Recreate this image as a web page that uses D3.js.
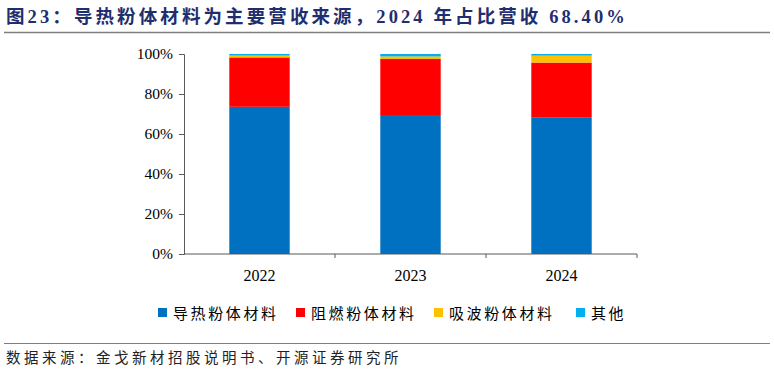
<!DOCTYPE html>
<html>
<head>
<meta charset="utf-8">
<script src="https://cdn.jsdelivr.net/npm/d3@7"></script>
<style>
  body { margin: 0; background: #fff; }
  svg { display: block; }
</style>
</head>
<body>
<div id="chart"></div>
<script>
// data (percent of revenue)
const years = ['2022', '2023', '2024'];
const seriesNames = ['导热粉体材料', '阻燃粉体材料', '吸波粉体材料', '其他'];
const thermal = [73.6, 69.5, 68.4];
const flame = [24.7, 28.0, 27.3];
const absorb = [0.9, 1.3, 3.5];
const other = [0.8, 1.2, 0.8];
const yTicks = [0, 20, 40, 60, 80, 100];

const colors = ['#0070C0', '#FF0000', '#FFC000', '#00B0F0'];
const keys = ['thermal', 'flame', 'absorb', 'other'];

const rows = years.map((y, i) => ({
  year: y, thermal: thermal[i], flame: flame[i], absorb: absorb[i], other: other[i]
}));

const W = 774, H = 374;
const margin = { top: 54, right: 137, bottom: 120, left: 184 };
const width = W - margin.left - margin.right;
const height = H - margin.top - margin.bottom;

const serif = '"Liberation Serif", "Times New Roman", serif';
const cjk = '"Liberation Serif", "Noto Sans CJK SC", serif';

const svg = d3.select('#chart').append('svg')
  .attr('width', W).attr('height', H);

// ── Title + rules ──────────────────────────────────────────
svg.append('text')
  .attr('x', 6).attr('y', 23)
  .attr('fill', '#1F2E6E')
  .attr('font-family', cjk)
  .attr('font-weight', 'bold')
  .attr('font-size', '18.5px')
  .attr('letter-spacing', '3.1px')
  .text('图23：导热粉体材料为主要营收来源，2024 年占比营收 68.40%');

svg.append('line')
  .attr('x1', 4).attr('x2', 770).attr('y1', 32.5).attr('y2', 32.5)
  .attr('stroke', '#7f7f7f').attr('stroke-width', 1.5);

svg.append('line')
  .attr('x1', 4).attr('x2', 770).attr('y1', 343.5).attr('y2', 343.5)
  .attr('stroke', '#7f7f7f').attr('stroke-width', 1.2);

svg.append('text')
  .attr('x', 6).attr('y', 363)
  .attr('fill', '#222')
  .attr('font-family', cjk)
  .attr('font-size', '14.5px')
  .attr('letter-spacing', '3.5px')
  .text('数据来源：金戈新材招股说明书、开源证券研究所');

// ── Plot ───────────────────────────────────────────────────
const g = svg.append('g').attr('transform', `translate(${margin.left},${margin.top})`);

const x = d3.scaleBand().domain(years).range([0, width]).paddingInner(0.6).paddingOuter(0.3);
const y = d3.scaleLinear().domain([0, 100]).range([height, 0]);

const series = d3.stack().keys(keys)(rows);

g.selectAll('.layer').data(series).join('g')
  .attr('fill', (d, i) => colors[i])
  .selectAll('rect').data(d => d).join('rect')
  .attr('x', d => x(d.data.year))
  .attr('width', x.bandwidth())
  .attr('y', d => y(d[1]))
  .attr('height', d => y(d[0]) - y(d[1]));

// y axis
const yAxis = g.append('g')
  .call(d3.axisLeft(y).tickValues(yTicks).tickSize(5).tickPadding(6).tickFormat(d => d + '%'));
yAxis.select('.domain').attr('stroke', '#595959');
yAxis.selectAll('.tick line').attr('stroke', '#595959');
yAxis.selectAll('text').attr('font-family', serif).attr('font-size', '15.5px').attr('fill', '#000');

// x axis: baseline with small ticks between categories
const xBase = g.append('g').attr('transform', `translate(0,${height})`);
xBase.append('line')
  .attr('x1', 0).attr('x2', width).attr('y1', 0).attr('y2', 0)
  .attr('stroke', '#595959');
const step = x.step();
const bounds = years.map((yr, i) => x(yr) - (step - x.bandwidth()) / 2).slice(1).concat([width]);
xBase.selectAll('.xt').data(bounds).join('line')
  .attr('x1', d => d).attr('x2', d => d).attr('y1', 0).attr('y2', 4)
  .attr('stroke', '#595959');
xBase.selectAll('.xl').data(years).join('text')
  .attr('x', d => x(d) + x.bandwidth() / 2)
  .attr('y', 27)
  .attr('text-anchor', 'middle')
  .attr('font-family', serif).attr('font-size', '16px')
  .text(d => d);

// ── Legend ─────────────────────────────────────────────────
const legendX = [158, 296, 434, 576];
const legend = svg.append('g');
seriesNames.forEach((name, i) => {
  legend.append('rect')
    .attr('x', legendX[i]).attr('y', 308).attr('width', 9).attr('height', 9)
    .attr('fill', colors[i]);
  legend.append('text')
    .attr('x', legendX[i] + 15).attr('y', 319)
    .attr('font-family', cjk).attr('font-size', '15px')
    .attr('letter-spacing', '2.6px')
    .text(name);
});
</script>
</body>
</html>
